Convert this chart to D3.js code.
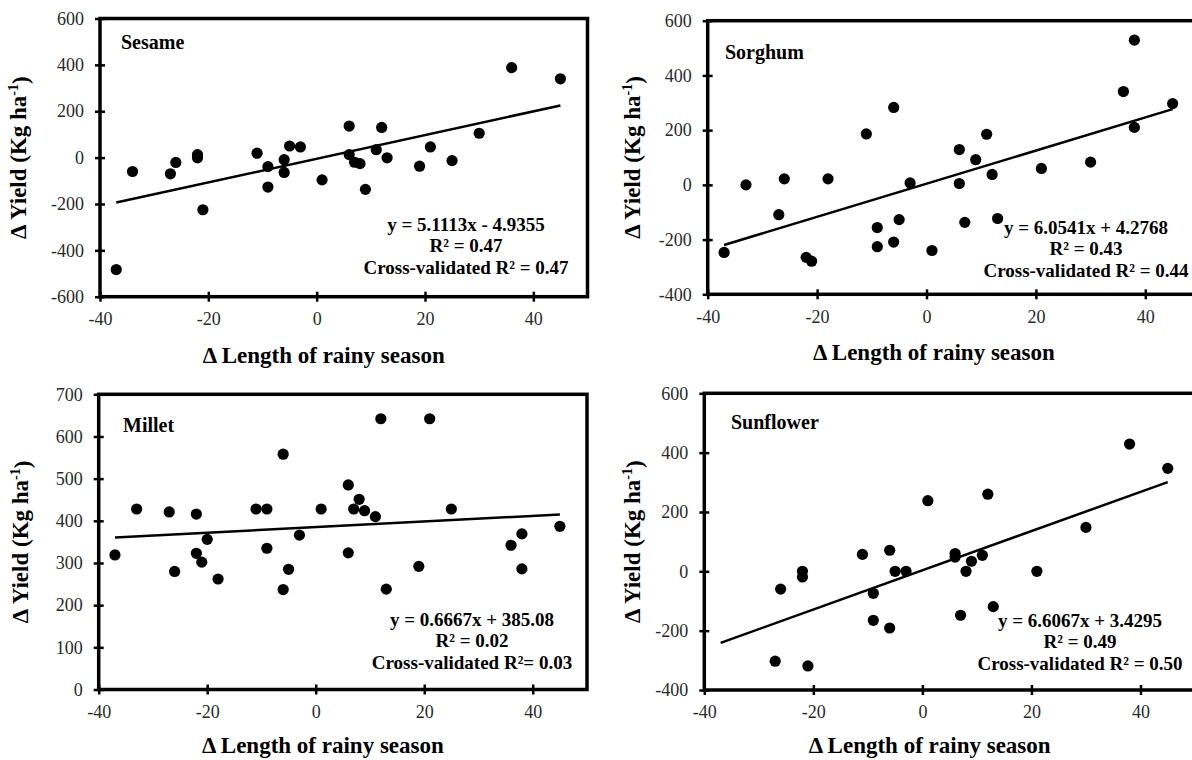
<!DOCTYPE html>
<html>
<head>
<meta charset="utf-8">
<script src="https://cdn.jsdelivr.net/npm/d3@7"></script>
<style>
  body { margin: 0; background: #fff; }
  svg { display: block; }
  svg text { font-family: "Liberation Serif", "Times New Roman", Times, "DejaVu Serif", serif !important; }
</style>
</head>
<body>
<svg id="chart" width="1192" height="760"></svg>
<script>
// Δ length of rainy season (days) vs Δ yield (kg/ha) for four crops
const lengthTicks = [-40, -20, 0, 20, 40];

const sesameX = [-37, -34, -27, -26, -22, -22, -21, -11, -9, -9, -6, -6, -5, -3, 1, 6, 6, 7, 8, 9, 11, 12, 13, 19, 21, 25, 30, 36, 45];
const sesameY = [-483, -60, -70, -21, 13, -1, -225, 19, -39, -127, -9, -64, 50, 46, -96, 136, 13, -20, -26, -137, 34, 130, -1, -37, 46, -13, 105, 388, 340];
const sesameYTicks = [-600, -400, -200, 0, 200, 400, 600];
const sesameFit = [5.1113, -4.9355];
const sesameNotes = ["y = 5.1113x - 4.9355", "R² = 0.47", "Cross-validated R² = 0.47"];

const sorghumX = [-37, -33, -27, -26, -22, -21, -18, -11, -9, -9, -6, -6, -5, -3, 1, 6, 6, 7, 9, 11, 12, 13, 21, 30, 36, 38, 38, 45];
const sorghumY = [-247, 0, -109, 22, -265, -279, 22, 186, -156, -226, 283, -209, -127, 7, -240, 129, 5, -137, 92, 185, 38, -123, 60, 83, 341, 529, 210, 297];
const sorghumYTicks = [-400, -200, 0, 200, 400, 600];
const sorghumFit = [6.0541, 4.2768];
const sorghumNotes = ["y = 6.0541x + 4.2768", "R² = 0.43", "Cross-validated R² = 0.44"];

const milletX = [-37, -33, -27, -26, -22, -22, -21, -20, -18, -11, -9, -9, -6, -6, -5, -3, 1, 6, 6, 7, 8, 9, 11, 12, 13, 19, 21, 25, 36, 38, 38, 45];
const milletY = [319, 428, 421, 280, 416, 323, 302, 356, 262, 428, 428, 335, 558, 237, 285, 366, 428, 485, 324, 428, 451, 424, 410, 642, 238, 292, 642, 428, 342, 369, 286, 387];
const milletYTicks = [0, 100, 200, 300, 400, 500, 600, 700];
const milletFit = [0.6667, 385.08];
const milletNotes = ["y = 0.6667x + 385.08", "R² = 0.02", "Cross-validated R²= 0.03"];

const sunflowerX = [-27, -26, -22, -22, -21, -11, -9, -9, -6, -6, -5, -3, 1, 6, 6, 7, 8, 9, 11, 12, 13, 21, 30, 38, 45];
const sunflowerY = [-303, -60, 0, -19, -319, 57, -74, -165, 71, -191, 0, 0, 238, 60, 48, -148, 0, 34, 54, 260, -119, 0, 148, 429, 347];
const sunflowerYTicks = [-400, -200, 0, 200, 400, 600];
const sunflowerFit = [6.6067, 3.4295];
const sunflowerNotes = ["y = 6.6067x + 3.4295", "R² = 0.49", "Cross-validated R² = 0.50"];

// Regression lines span the full range of seasons observed
const seasonRange = d3.extent([].concat(sesameX, sorghumX, milletX, sunflowerX));

// Panel frames (pixels) and text anchors
const panels = [
  { name: "Sesame", xs: sesameX, ys: sesameY, yTicks: sesameYTicks, fit: sesameFit, notes: sesameNotes,
    frame: { left: 100, right: 587.5, top: 18.5, bottom: 296.7 }, nameAt: [121, 42], notesAt: [466, 224], yLabelX: 18, xTitleDy: 58 },
  { name: "Sorghum", xs: sorghumX, ys: sorghumY, yTicks: sorghumYTicks, fit: sorghumFit, notes: sorghumNotes,
    frame: { left: 707.7, right: 1200, top: 20.7, bottom: 294.3 }, nameAt: [725, 52], notesAt: [1086, 227], yLabelX: 632, xTitleDy: 58 },
  { name: "Millet", xs: milletX, ys: milletY, yTicks: milletYTicks, fit: milletFit, notes: milletNotes,
    frame: { left: 98.7, right: 587, top: 394.3, bottom: 689.5 }, nameAt: [123, 425], notesAt: [472, 619], yLabelX: 20, xTitleDy: 55 },
  { name: "Sunflower", xs: sunflowerX, ys: sunflowerY, yTicks: sunflowerYTicks, fit: sunflowerFit, notes: sunflowerNotes,
    frame: { left: 704.3, right: 1195, top: 393.3, bottom: 690 }, nameAt: [731, 422], notesAt: [1080, 620], yLabelX: 632, xTitleDy: 55 }
];

const svg = d3.select("#chart");
const minus = d => d < 0 ? "-" + Math.abs(d) : String(d);

panels.forEach(p => {
  const f = p.frame;
  const x = d3.scaleLinear().domain([-40, 50]).range([f.left, f.right]);
  const y = d3.scaleLinear().domain(d3.extent(p.yTicks)).range([f.bottom, f.top]);
  const g = svg.append("g");

  // frame
  g.append("rect")
    .attr("x", f.left).attr("y", f.top)
    .attr("width", f.right - f.left).attr("height", f.bottom - f.top)
    .attr("fill", "none").attr("stroke", "#000").attr("stroke-width", 3.5);

  // y axis: cross ticks through the frame line
  const ya = g.append("g").attr("transform", `translate(${f.left},0)`)
    .call(d3.axisLeft(y).tickValues(p.yTicks).tickSize(0).tickFormat(minus));
  ya.select(".domain").remove();
  ya.selectAll(".tick line").attr("x1", -5).attr("x2", 5).attr("stroke", "#000").attr("stroke-width", 2.5);
  ya.selectAll(".tick text").attr("x", -16).attr("font-size", 18).attr("fill", "#2a2a2a");

  // x axis
  const xa = g.append("g").attr("transform", `translate(0,${f.bottom})`)
    .call(d3.axisBottom(x).tickValues(lengthTicks).tickSize(0).tickFormat(minus));
  xa.select(".domain").remove();
  xa.selectAll(".tick line").attr("y1", -5).attr("y2", 5).attr("stroke", "#000").attr("stroke-width", 2.5);
  xa.selectAll(".tick text").attr("y", 22).attr("dy", "0.35em").attr("font-size", 18).attr("fill", "#2a2a2a");

  // regression line
  const [m, b] = p.fit;
  g.append("line")
    .attr("x1", x(seasonRange[0])).attr("y1", y(m * seasonRange[0] + b))
    .attr("x2", x(seasonRange[1])).attr("y2", y(m * seasonRange[1] + b))
    .attr("stroke", "#000").attr("stroke-width", 2.5);

  // observations
  g.selectAll("circle.obs").data(p.xs.map((v, i) => [v, p.ys[i]])).join("circle")
    .attr("class", "obs")
    .attr("cx", d => x(d[0])).attr("cy", d => y(d[1])).attr("r", 5.6).attr("fill", "#000");

  // crop name
  g.append("text").attr("x", p.nameAt[0]).attr("y", p.nameAt[1]).attr("dy", "0.35em")
    .attr("font-size", 20).attr("font-weight", "bold").text(p.name);

  // fit statistics
  p.notes.forEach((t, i) => {
    g.append("text").attr("x", p.notesAt[0]).attr("y", p.notesAt[1] + i * 21.5).attr("dy", "0.35em")
      .attr("text-anchor", "middle").attr("font-size", 19).attr("font-weight", "bold").text(t);
  });

  // axis titles
  g.append("text").attr("x", x(5) - 20).attr("y", f.bottom + p.xTitleDy).attr("dy", "0.35em")
    .attr("text-anchor", "middle").attr("font-size", 23).attr("font-weight", "bold").text("Δ Length of rainy season");

  const yl = g.append("text")
    .attr("transform", `translate(${p.yLabelX},${(f.top + f.bottom) / 2}) rotate(-90)`)
    .attr("dy", "0.35em").attr("text-anchor", "middle").attr("font-size", 23).attr("font-weight", "bold");
  yl.append("tspan").text("Δ Yield (Kg ha");
  yl.append("tspan").attr("font-size", 14).attr("dy", "-0.6em").text("-1");
  yl.append("tspan").attr("dy", "0.45em").text(")");
});
</script>
</body>
</html>
